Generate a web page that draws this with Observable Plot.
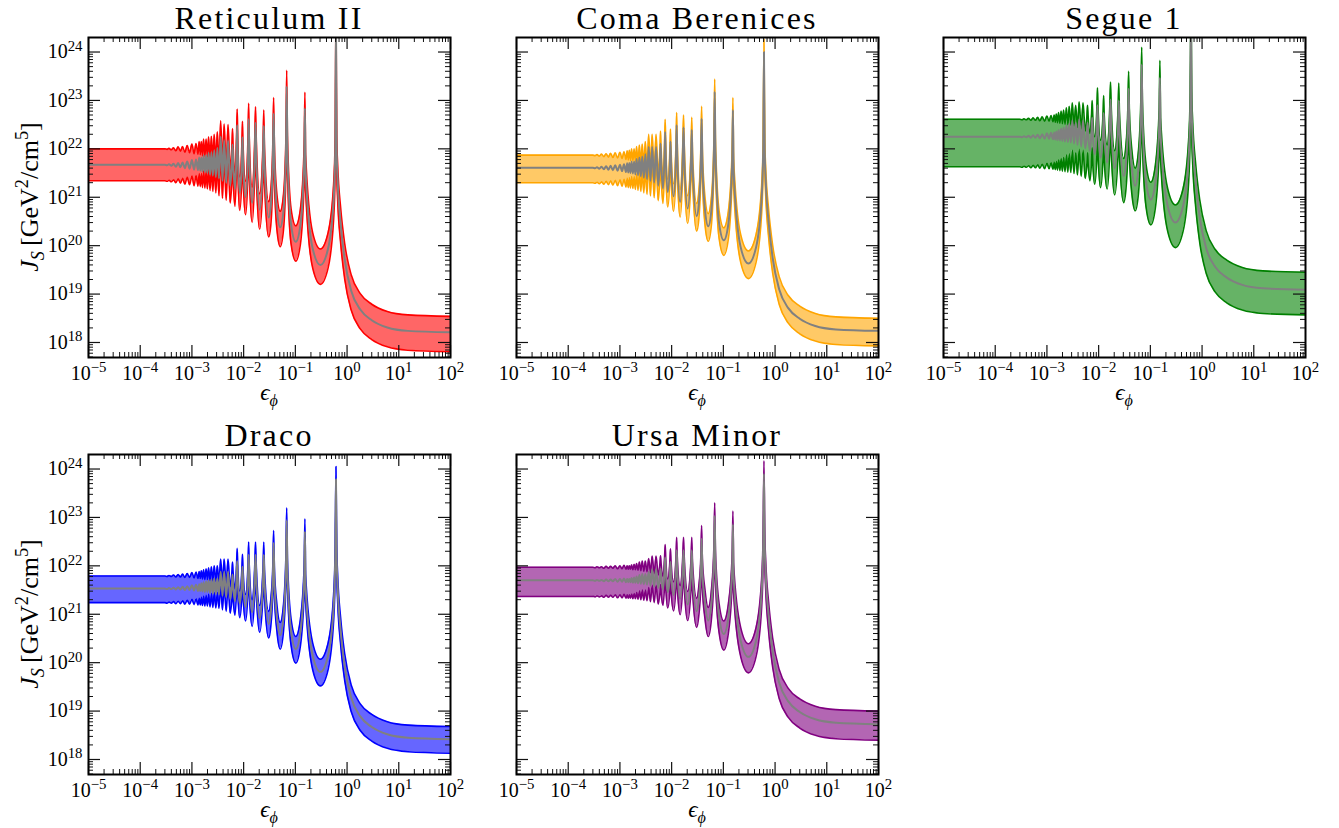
<!DOCTYPE html>
<html lang="en">
<head>
<meta charset="utf-8">
<title>Sommerfeld-enhanced J-factors of dwarf spheroidal galaxies</title>
<script src="https://cdn.jsdelivr.net/npm/d3@7"></script>
<script src="https://cdn.jsdelivr.net/npm/@observablehq/plot@0.6"></script>
<style>
  html, body { margin: 0; background: #fff; }
  #figure { position: relative; width: 1339px; height: 828px; overflow: hidden;
    font-family: "Liberation Serif", "DejaVu Serif", serif; color: #000; }
  .panel { position: absolute; }
  .title { position: absolute; width: 400px; text-align: center; font-size: 32px; line-height: 32px;
    letter-spacing: 2.2px; white-space: nowrap; }
  .xlabel { position: absolute; width: 120px; text-align: center; font-size: 23px; line-height: 23px;
    font-style: italic; white-space: nowrap; }
  .ylabel { position: absolute; width: 300px; height: 32px; line-height: 32px; text-align: center;
    font-size: 26px; transform: rotate(-90deg); white-space: nowrap; }
  sub, sup { font-size: 0.7em; line-height: 0; }
</style>
</head>
<body>
<div id="figure"></div>
<script>
// Dark-matter coupling strength epsilon_phi (shared sampling of the resonance structure)
const eps = [
  1e-5, 1e-4, 2.5e-4, 3.0e-4, 3.3e-4, 3.6e-4, 4.0e-4, 4.4e-4, 4.9e-4, 5.4e-4,
  6.0e-4, 6.6e-4, 7.3e-4, 8.1e-4, 9.0e-4, 1.0e-3, 1.1e-3, 1.2e-3, 1.31e-3, 1.38e-3,
  1.45e-3, 1.52e-3, 1.6e-3, 1.68e-3, 1.78e-3, 1.88e-3, 1.99e-3, 2.1e-3, 2.24e-3, 2.38e-3,
  2.54e-3, 2.7e-3, 2.9e-3, 3.1e-3, 3.34e-3, 3.6e-3, 3.9e-3, 4.2e-3, 4.6e-3, 5.0e-3,
  5.5e-3, 5.94e-3, 6.1e-3, 6.27e-3, 6.8e-3, 7.3e-3, 7.5e-3, 7.7e-3, 8.4e-3, 9.25e-3,
  9.5e-3, 9.76e-3, 1.09e-2, 1.217e-2, 1.25e-2, 1.284e-2, 1.46e-2, 1.64e-2, 1.7e-2, 1.76e-2,
  2.04e-2, 2.37e-2, 2.45e-2, 2.53e-2, 3.05e-2, 3.35e-2, 3.68e-2, 3.8e-2, 3.93e-2, 4.4e-2,
  5.1e-2, 5.9e-2, 6.58e-2, 6.8e-2, 7.03e-2, 8.3e-2, 0.102, 0.125, 0.148, 0.153,
  0.158, 0.216, 0.305, 0.43, 0.55, 0.59, 0.61, 0.63, 0.66, 0.75,
  0.9, 1.2, 1.8, 3, 6, 15, 100
];

// log10 J_S [GeV^2/cm^5]: lower edge, median and upper edge of each dwarf's band
const reticulumLower = [
  21.34, 21.34, 21.34, 21.34, 21.33, 21.35, 21.32, 21.36, 21.30, 21.38,
  21.29, 21.39, 21.27, 21.41, 21.26, 21.44, 21.24, 21.45, 21.23, 21.49,
  21.22, 21.49, 21.20, 21.54, 21.19, 21.54, 21.17, 21.59, 21.14, 21.60,
  21.12, 21.64, 21.09, 21.66, 21.03, 21.89, 20.98, 21.82, 20.94, 21.81,
  20.88, 21.39, 21.73, 21.36, 20.81, 21.60, 22.13, 21.57, 20.73, 21.42,
  21.88, 21.38, 20.64, 21.57, 22.21, 21.52, 20.48, 21.48, 22.14, 21.42,
  20.34, 21.38, 22.07, 21.31, 20.18, 20.42, 21.47, 22.33, 21.39, 20.33,
  19.98, 20.33, 21.54, 22.89, 21.54, 20.02, 19.68, 20.02, 21.34, 22.44,
  21.14, 19.54, 19.20, 19.54, 20.55, 21.53, 24.20, 21.56, 20.91, 20.06,
  19.31, 18.67, 18.28, 18.06, 17.91, 17.84, 17.81
];
const reticulumMedian = [
  21.67, 21.67, 21.67, 21.67, 21.66, 21.68, 21.65, 21.69, 21.63, 21.71,
  21.62, 21.72, 21.60, 21.74, 21.59, 21.77, 21.57, 21.78, 21.56, 21.82,
  21.55, 21.82, 21.53, 21.87, 21.52, 21.87, 21.50, 21.92, 21.47, 21.93,
  21.45, 21.97, 21.42, 22.02, 21.39, 22.25, 21.34, 22.18, 21.30, 22.17,
  21.24, 21.75, 22.09, 21.72, 21.17, 21.96, 22.49, 21.93, 21.09, 21.78,
  22.24, 21.74, 21.00, 21.97, 22.61, 21.92, 20.88, 21.88, 22.54, 21.82,
  20.74, 21.78, 22.47, 21.71, 20.58, 20.82, 21.87, 22.73, 21.79, 20.73,
  20.38, 20.73, 21.94, 23.29, 21.94, 20.42, 20.08, 20.42, 21.74, 22.84,
  21.54, 19.94, 19.60, 19.94, 20.95, 21.93, 24.60, 21.96, 21.31, 20.46,
  19.71, 19.07, 18.68, 18.46, 18.31, 18.24, 18.21
];
const reticulumUpper = [
  22.00, 22.00, 22.00, 22.00, 21.99, 22.01, 21.98, 22.02, 21.96, 22.04,
  21.95, 22.05, 21.93, 22.07, 21.92, 22.10, 21.90, 22.11, 21.89, 22.15,
  21.88, 22.15, 21.86, 22.20, 21.85, 22.20, 21.83, 22.25, 21.80, 22.26,
  21.78, 22.30, 21.75, 22.35, 21.72, 22.58, 21.67, 22.51, 21.63, 22.50,
  21.57, 22.08, 22.42, 22.05, 21.50, 22.29, 22.82, 22.26, 21.42, 22.11,
  22.57, 22.07, 21.33, 22.30, 22.94, 22.25, 21.21, 22.21, 22.87, 22.15,
  21.07, 22.11, 22.80, 22.04, 20.91, 21.15, 22.20, 23.06, 22.12, 21.06,
  20.71, 21.06, 22.27, 23.62, 22.27, 20.75, 20.41, 20.75, 22.07, 23.17,
  21.87, 20.27, 19.93, 20.27, 21.28, 22.26, 24.93, 22.29, 21.64, 20.79,
  20.04, 19.40, 19.01, 18.79, 18.64, 18.57, 18.54
];

const comaLower = [
  21.30, 21.30, 21.30, 21.30, 21.29, 21.31, 21.28, 21.32, 21.27, 21.33,
  21.26, 21.34, 21.25, 21.35, 21.24, 21.36, 21.23, 21.37, 21.21, 21.39,
  21.20, 21.40, 21.19, 21.43, 21.18, 21.43, 21.16, 21.48, 21.14, 21.51,
  21.12, 21.53, 21.09, 21.58, 21.06, 21.73, 21.03, 21.73, 20.99, 21.73,
  20.93, 21.45, 21.80, 21.43, 20.87, 21.57, 22.04, 21.54, 20.80, 21.42,
  21.84, 21.39, 20.71, 21.59, 22.18, 21.54, 20.59, 21.51, 22.13, 21.46,
  20.46, 21.43, 22.08, 21.37, 20.30, 20.54, 21.51, 22.31, 21.42, 20.45,
  20.09, 20.45, 21.66, 22.87, 21.64, 20.14, 19.80, 20.14, 21.41, 22.49,
  21.22, 19.66, 19.32, 19.66, 20.67, 21.65, 23.69, 21.68, 21.03, 20.18,
  19.43, 18.79, 18.40, 18.18, 18.03, 17.96, 17.93
];
const comaMedian = [
  21.61, 21.61, 21.61, 21.61, 21.60, 21.62, 21.59, 21.63, 21.58, 21.64,
  21.57, 21.65, 21.56, 21.66, 21.55, 21.67, 21.54, 21.68, 21.52, 21.70,
  21.51, 21.71, 21.50, 21.74, 21.49, 21.74, 21.47, 21.79, 21.45, 21.82,
  21.43, 21.84, 21.40, 21.89, 21.37, 22.04, 21.34, 22.04, 21.30, 22.04,
  21.24, 21.76, 22.11, 21.74, 21.18, 21.88, 22.35, 21.85, 21.11, 21.73,
  22.15, 21.70, 21.02, 21.90, 22.49, 21.85, 20.90, 21.82, 22.44, 21.77,
  20.77, 21.74, 22.39, 21.68, 20.61, 20.85, 21.82, 22.62, 21.73, 20.76,
  20.40, 20.76, 21.97, 23.18, 21.95, 20.45, 20.11, 20.45, 21.72, 22.80,
  21.53, 19.97, 19.63, 19.97, 20.98, 21.96, 24.00, 21.99, 21.34, 20.49,
  19.74, 19.10, 18.71, 18.49, 18.34, 18.27, 18.24
];
const comaUpper = [
  21.87, 21.87, 21.87, 21.87, 21.86, 21.88, 21.85, 21.89, 21.84, 21.90,
  21.83, 21.91, 21.82, 21.92, 21.81, 21.93, 21.80, 21.94, 21.78, 21.96,
  21.77, 21.97, 21.76, 22.00, 21.75, 22.00, 21.73, 22.05, 21.71, 22.08,
  21.69, 22.10, 21.66, 22.15, 21.63, 22.30, 21.60, 22.30, 21.56, 22.30,
  21.50, 22.02, 22.37, 22.00, 21.44, 22.14, 22.61, 22.11, 21.37, 21.99,
  22.41, 21.96, 21.28, 22.16, 22.75, 22.11, 21.16, 22.08, 22.70, 22.03,
  21.03, 22.00, 22.65, 21.94, 20.87, 21.11, 22.08, 22.88, 21.99, 21.02,
  20.66, 21.02, 22.23, 23.44, 22.21, 20.71, 20.37, 20.71, 21.98, 23.06,
  21.79, 20.23, 19.89, 20.23, 21.24, 22.22, 24.26, 22.25, 21.60, 20.75,
  20.00, 19.36, 18.97, 18.75, 18.60, 18.53, 18.50
];

const segueLower = [
  21.63, 21.63, 21.63, 21.63, 21.62, 21.64, 21.62, 21.65, 21.61, 21.66,
  21.61, 21.67, 21.60, 21.68, 21.59, 21.70, 21.59, 21.71, 21.58, 21.72,
  21.57, 21.74, 21.56, 21.77, 21.55, 21.80, 21.54, 21.82, 21.53, 21.87,
  21.52, 21.90, 21.51, 21.97, 21.49, 21.92, 21.46, 21.99, 21.43, 21.97,
  21.39, 21.71, 21.92, 21.69, 21.34, 21.75, 22.02, 21.72, 21.27, 21.88,
  22.28, 21.85, 21.20, 21.82, 22.19, 21.78, 21.17, 21.95, 22.47, 21.90,
  21.05, 21.89, 22.45, 21.83, 20.89, 21.13, 21.97, 22.69, 21.89, 21.06,
  20.72, 21.09, 22.22, 23.22, 22.10, 20.78, 20.43, 20.78, 21.94, 22.95,
  21.75, 20.30, 19.96, 20.30, 21.31, 22.29, 24.28, 22.32, 21.67, 20.82,
  20.07, 19.43, 19.04, 18.82, 18.67, 18.60, 18.57
];
const segueMedian = [
  22.25, 22.25, 22.25, 22.25, 22.24, 22.26, 22.24, 22.27, 22.23, 22.28,
  22.23, 22.29, 22.22, 22.30, 22.21, 22.32, 22.21, 22.33, 22.20, 22.34,
  22.19, 22.36, 22.18, 22.39, 22.17, 22.42, 22.16, 22.44, 22.15, 22.49,
  22.14, 22.52, 22.13, 22.59, 22.11, 22.54, 22.08, 22.61, 22.05, 22.59,
  22.01, 22.33, 22.54, 22.31, 21.96, 22.37, 22.64, 22.34, 21.89, 22.50,
  22.90, 22.47, 21.82, 22.37, 22.74, 22.33, 21.72, 22.50, 23.02, 22.45,
  21.60, 22.44, 23.00, 22.38, 21.44, 21.68, 22.52, 23.24, 22.44, 21.61,
  21.24, 21.61, 22.74, 23.74, 22.62, 21.30, 20.95, 21.30, 22.46, 23.47,
  22.27, 20.82, 20.48, 20.82, 21.83, 22.81, 24.80, 22.84, 22.19, 21.34,
  20.59, 19.95, 19.56, 19.34, 19.19, 19.12, 19.09
];
const segueUpper = [
  22.61, 22.61, 22.61, 22.61, 22.60, 22.62, 22.60, 22.63, 22.59, 22.64,
  22.59, 22.65, 22.58, 22.66, 22.57, 22.68, 22.57, 22.69, 22.56, 22.70,
  22.55, 22.72, 22.54, 22.75, 22.53, 22.78, 22.52, 22.80, 22.51, 22.85,
  22.50, 22.88, 22.49, 22.95, 22.47, 22.90, 22.44, 22.97, 22.41, 22.95,
  22.37, 22.69, 22.90, 22.67, 22.32, 22.73, 23.00, 22.70, 22.25, 22.86,
  23.26, 22.83, 22.18, 22.73, 23.10, 22.69, 22.08, 22.86, 23.38, 22.81,
  21.96, 22.80, 23.36, 22.74, 21.80, 22.04, 22.88, 23.60, 22.80, 21.97,
  21.60, 21.97, 23.10, 24.10, 22.98, 21.66, 21.31, 21.66, 22.82, 23.83,
  22.63, 21.18, 20.84, 21.18, 22.19, 23.17, 25.16, 23.20, 22.55, 21.70,
  20.95, 20.31, 19.92, 19.70, 19.55, 19.48, 19.45
];

const dracoLower = [
  21.24, 21.24, 21.24, 21.24, 21.23, 21.25, 21.23, 21.26, 21.22, 21.27,
  21.22, 21.28, 21.21, 21.29, 21.21, 21.31, 21.20, 21.32, 21.19, 21.33,
  21.19, 21.35, 21.18, 21.37, 21.17, 21.39, 21.17, 21.41, 21.15, 21.43,
  21.14, 21.45, 21.13, 21.45, 21.12, 21.59, 21.09, 21.59, 21.06, 21.59,
  21.02, 21.33, 21.53, 21.31, 20.98, 21.48, 21.81, 21.46, 20.93, 21.39,
  21.69, 21.36, 20.86, 21.51, 21.94, 21.46, 20.75, 21.46, 21.94, 21.42,
  20.63, 21.42, 21.94, 21.37, 20.51, 20.75, 21.51, 22.18, 21.42, 20.65,
  20.28, 20.65, 21.70, 22.65, 21.59, 20.34, 19.99, 20.34, 21.45, 22.42,
  21.26, 19.86, 19.52, 19.86, 20.87, 21.85, 23.50, 21.88, 21.23, 20.38,
  19.63, 18.99, 18.60, 18.38, 18.23, 18.16, 18.13
];
const dracoMedian = [
  21.53, 21.53, 21.53, 21.53, 21.52, 21.54, 21.52, 21.55, 21.51, 21.56,
  21.51, 21.57, 21.50, 21.58, 21.50, 21.60, 21.49, 21.61, 21.48, 21.62,
  21.48, 21.64, 21.47, 21.66, 21.46, 21.68, 21.46, 21.70, 21.44, 21.72,
  21.43, 21.74, 21.42, 21.74, 21.41, 21.88, 21.38, 21.88, 21.35, 21.88,
  21.31, 21.62, 21.82, 21.60, 21.27, 21.77, 22.10, 21.75, 21.22, 21.68,
  21.98, 21.65, 21.15, 21.80, 22.23, 21.75, 21.04, 21.75, 22.23, 21.71,
  20.92, 21.71, 22.23, 21.66, 20.80, 21.04, 21.80, 22.47, 21.71, 20.94,
  20.57, 20.94, 21.99, 22.94, 21.88, 20.63, 20.28, 20.63, 21.74, 22.71,
  21.55, 20.15, 19.81, 20.15, 21.16, 22.14, 23.79, 22.17, 21.52, 20.67,
  19.92, 19.28, 18.89, 18.67, 18.52, 18.45, 18.42
];
const dracoUpper = [
  21.79, 21.79, 21.79, 21.79, 21.78, 21.80, 21.78, 21.81, 21.77, 21.82,
  21.77, 21.83, 21.76, 21.84, 21.76, 21.86, 21.75, 21.87, 21.74, 21.88,
  21.74, 21.90, 21.73, 21.92, 21.72, 21.94, 21.72, 21.96, 21.70, 21.98,
  21.69, 22.00, 21.68, 22.00, 21.67, 22.14, 21.64, 22.14, 21.61, 22.14,
  21.57, 21.88, 22.08, 21.86, 21.53, 22.03, 22.36, 22.01, 21.48, 21.94,
  22.24, 21.91, 21.41, 22.06, 22.49, 22.01, 21.30, 22.01, 22.49, 21.97,
  21.18, 21.97, 22.49, 21.92, 21.06, 21.30, 22.06, 22.73, 21.97, 21.20,
  20.83, 21.20, 22.25, 23.20, 22.14, 20.89, 20.54, 20.89, 22.00, 22.97,
  21.81, 20.41, 20.07, 20.41, 21.42, 22.40, 24.05, 22.43, 21.78, 20.93,
  20.18, 19.54, 19.15, 18.93, 18.78, 18.71, 18.68
];

const ursaMinorLower = [
  21.37, 21.37, 21.37, 21.37, 21.36, 21.38, 21.36, 21.38, 21.35, 21.39,
  21.35, 21.39, 21.35, 21.40, 21.34, 21.40, 21.34, 21.41, 21.33, 21.40,
  21.33, 21.40, 21.33, 21.42, 21.32, 21.43, 21.32, 21.45, 21.31, 21.48,
  21.30, 21.50, 21.29, 21.50, 21.28, 21.55, 21.26, 21.60, 21.24, 21.60,
  21.21, 21.45, 21.61, 21.44, 21.18, 21.58, 21.84, 21.56, 21.13, 21.50,
  21.75, 21.48, 21.07, 21.62, 21.99, 21.59, 20.99, 21.59, 21.99, 21.54,
  20.87, 21.54, 21.99, 21.49, 20.73, 20.97, 21.63, 22.23, 21.55, 20.92,
  20.54, 20.92, 21.84, 22.70, 21.72, 20.61, 20.26, 20.61, 21.62, 22.53,
  21.43, 20.13, 19.79, 20.13, 21.14, 22.12, 23.57, 22.15, 21.50, 20.65,
  19.90, 19.26, 18.87, 18.65, 18.50, 18.43, 18.40
];
const ursaMinorMedian = [
  21.70, 21.70, 21.70, 21.70, 21.69, 21.71, 21.69, 21.71, 21.68, 21.72,
  21.68, 21.72, 21.68, 21.73, 21.67, 21.73, 21.67, 21.74, 21.66, 21.73,
  21.66, 21.73, 21.66, 21.75, 21.65, 21.76, 21.65, 21.78, 21.64, 21.81,
  21.63, 21.83, 21.62, 21.83, 21.61, 21.88, 21.59, 21.93, 21.57, 21.93,
  21.54, 21.78, 21.94, 21.77, 21.51, 21.91, 22.17, 21.89, 21.46, 21.83,
  22.08, 21.81, 21.40, 21.95, 22.32, 21.92, 21.32, 21.92, 22.32, 21.87,
  21.20, 21.87, 22.32, 21.82, 21.06, 21.30, 21.96, 22.56, 21.88, 21.25,
  20.87, 21.25, 22.17, 23.03, 22.05, 20.94, 20.59, 20.94, 21.95, 22.86,
  21.76, 20.46, 20.12, 20.46, 21.47, 22.45, 23.90, 22.48, 21.83, 20.98,
  20.23, 19.59, 19.20, 18.98, 18.83, 18.76, 18.73
];
const ursaMinorUpper = [
  21.97, 21.97, 21.97, 21.97, 21.96, 21.98, 21.96, 21.98, 21.95, 21.99,
  21.95, 21.99, 21.95, 22.00, 21.94, 22.00, 21.94, 22.01, 21.93, 22.00,
  21.93, 22.00, 21.93, 22.02, 21.92, 22.03, 21.92, 22.05, 21.91, 22.08,
  21.90, 22.10, 21.89, 22.10, 21.88, 22.15, 21.86, 22.20, 21.84, 22.20,
  21.81, 22.05, 22.21, 22.04, 21.78, 22.18, 22.44, 22.16, 21.73, 22.10,
  22.35, 22.08, 21.67, 22.22, 22.59, 22.19, 21.59, 22.19, 22.59, 22.14,
  21.47, 22.14, 22.59, 22.09, 21.33, 21.57, 22.23, 22.83, 22.15, 21.52,
  21.14, 21.52, 22.44, 23.30, 22.32, 21.21, 20.86, 21.21, 22.22, 23.13,
  22.03, 20.73, 20.39, 20.73, 21.74, 22.72, 24.17, 22.75, 22.10, 21.25,
  20.50, 19.86, 19.47, 19.25, 19.10, 19.03, 19.00
];

// Tick decades of both axes
const xTickExponents = [-5, -4, -3, -2, -1, 0, 1, 2];
const yTickExponents = [18, 19, 20, 21, 22, 23, 24];

// ---- layout ----
const FRAME_W = 362, FRAME_H = 320;
const M = {left: 70, right: 12, top: 10, bottom: 48};
const X_DOMAIN = [1e-5, 1e2];
const Y_DOMAIN = [10 ** 17.69, 10 ** 24.3];
const MAJOR = 12, MINOR = 5;

const panels = [
  {title: "Reticulum II", color: "#ff0000", lower: reticulumLower, median: reticulumMedian, upper: reticulumUpper, left: 88, top: 37, yLabels: true},
  {title: "Coma Berenices", color: "#ffa500", lower: comaLower, median: comaMedian, upper: comaUpper, left: 516, top: 37, yLabels: false},
  {title: "Segue 1", color: "#008000", lower: segueLower, median: segueMedian, upper: segueUpper, left: 943, top: 37, yLabels: false},
  {title: "Draco", color: "#0000ff", lower: dracoLower, median: dracoMedian, upper: dracoUpper, left: 88, top: 454, yLabels: true},
  {title: "Ursa Minor", color: "#800080", lower: ursaMinorLower, median: ursaMinorMedian, upper: ursaMinorUpper, left: 516, top: 454, yLabels: false}
];

const xMajor = xTickExponents.map(k => 10 ** k);
const yMajor = yTickExponents.map(k => 10 ** k);
const xMinor = d3.range(-5, 2).flatMap(k => d3.range(2, 10).map(m => m * 10 ** k));
const yMinor = d3.range(17, 25).flatMap(k => d3.range(2, 10).map(m => m * 10 ** k))
  .filter(v => v > Y_DOMAIN[0] && v < Y_DOMAIN[1]);

const SVGNS = "http://www.w3.org/2000/svg";
const decade = v => `10^${Math.round(Math.log10(v))}`;

// turn "10^k" tick strings into a base with a raised exponent
function superscriptTicks(svg) {
  svg.querySelectorAll('[aria-label="x-axis tick label"] text, [aria-label="y-axis tick label"] text').forEach(t => {
    const m = /^10\^(-?\d+)$/.exec(t.textContent.trim());
    if (!m) return;
    t.textContent = "10";
    const sup = document.createElementNS(SVGNS, "tspan");
    sup.setAttribute("dy", "-0.5em");
    sup.setAttribute("font-size", "0.74em");
    sup.textContent = m[1].replace("-", "\u2212");
    t.appendChild(sup);
  });
}

const figure = document.getElementById("figure");
const curve = "monotone-x";
const tickStyle = {stroke: "#111", strokeWidth: 1.2};
const minorStyle = {stroke: "#111", strokeWidth: 1};

for (const p of panels) {
  const data = eps.map((e, i) => ({
    eps: e,
    lower: 10 ** p.lower[i],
    median: 10 ** p.median[i],
    upper: 10 ** p.upper[i]
  }));

  const marks = [
    Plot.areaY(data, {x: "eps", y1: "lower", y2: "upper", fill: p.color, fillOpacity: 0.6, curve, clip: true}),
    Plot.lineY(data, {x: "eps", y: "lower", stroke: p.color, strokeWidth: 1.6, curve, clip: true}),
    Plot.lineY(data, {x: "eps", y: "upper", stroke: p.color, strokeWidth: 1.6, curve, clip: true}),
    Plot.lineY(data, {x: "eps", y: "median", stroke: "#808080", strokeWidth: 2, curve, clip: true}),
    // inward ticks on all four sides
    Plot.ruleX(xMajor, {insetTop: FRAME_H - MAJOR, ...tickStyle}),
    Plot.ruleX(xMajor, {insetBottom: FRAME_H - MAJOR, ...tickStyle}),
    Plot.ruleX(xMinor, {insetTop: FRAME_H - MINOR, ...minorStyle}),
    Plot.ruleX(xMinor, {insetBottom: FRAME_H - MINOR, ...minorStyle}),
    Plot.ruleY(yMajor, {insetRight: FRAME_W - MAJOR, ...tickStyle}),
    Plot.ruleY(yMajor, {insetLeft: FRAME_W - MAJOR, ...tickStyle}),
    Plot.ruleY(yMinor, {insetRight: FRAME_W - MINOR, ...minorStyle}),
    Plot.ruleY(yMinor, {insetLeft: FRAME_W - MINOR, ...minorStyle}),
    Plot.frame({stroke: "#000", strokeWidth: 2}),
    Plot.axisX(xMajor, {anchor: "bottom", tickSize: 0, tickPadding: 8, tickFormat: decade, label: null, fontSize: 20})
  ];
  if (p.yLabels) {
    marks.push(Plot.axisY(yMajor, {anchor: "left", tickSize: 0, tickPadding: 6, tickFormat: decade, label: null, fontSize: 20}));
  }

  const svg = Plot.plot({
    width: M.left + FRAME_W + M.right,
    height: M.top + FRAME_H + M.bottom,
    marginLeft: M.left, marginRight: M.right, marginTop: M.top, marginBottom: M.bottom,
    style: {fontFamily: '"Liberation Serif", "DejaVu Serif", serif', fontSize: "20px", background: "transparent", overflow: "visible"},
    x: {type: "log", domain: X_DOMAIN},
    y: {type: "log", domain: Y_DOMAIN, axis: p.yLabels ? undefined : null},
    marks
  });
  superscriptTicks(svg);

  const holder = document.createElement("div");
  holder.className = "panel";
  holder.style.left = `${p.left - M.left}px`;
  holder.style.top = `${p.top - M.top}px`;
  holder.appendChild(svg);
  figure.appendChild(holder);

  const cx = p.left + FRAME_W / 2;

  const title = document.createElement("div");
  title.className = "title";
  title.textContent = p.title;
  title.style.left = `${cx - 200}px`;
  title.style.top = `${p.top - 35}px`;
  figure.appendChild(title);

  const xl = document.createElement("div");
  xl.className = "xlabel";
  xl.innerHTML = "\u03f5<sub>\u03d5</sub>";
  xl.style.left = `${cx - 60}px`;
  xl.style.top = `${p.top + FRAME_H + 24}px`;
  figure.appendChild(xl);

  if (p.yLabels) {
    const yl = document.createElement("div");
    yl.className = "ylabel";
    yl.innerHTML = "<i>J</i><sub><i>S</i></sub>&#8201;[GeV<sup>2</sup>/cm<sup>5</sup>]";
    yl.style.left = `${30 - 150}px`;
    yl.style.top = `${p.top + FRAME_H / 2 - 16}px`;
    figure.appendChild(yl);
  }
}
</script>
</body>
</html>
